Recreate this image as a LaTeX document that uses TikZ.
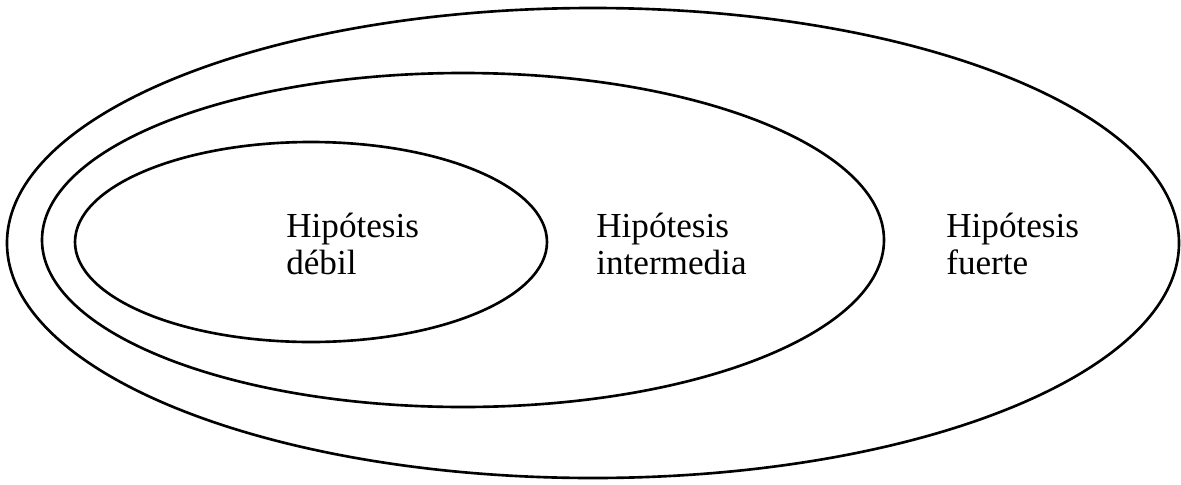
\documentclass[tikz,border=0pt]{standalone}
\usepackage{fontspec}
\setmainfont{Liberation Serif}
\begin{document}
\begin{tikzpicture}[x=0.02cm,y=-0.02cm,line width=1.5pt,
  label/.style={anchor=north west,inner sep=0pt,align=left,font=\fontsize{20}{21}\selectfont}]
\useasboundingbox (0,0) rectangle (1181,484);
% nested sets
\draw (593,243) ellipse (586 and 235);
\draw (463,240) ellipse (421 and 167);
\draw (311,242) ellipse (236 and 100);
% labels
\node[label] (debil) at (285,212) {Hipótesis\\débil};
\node[label] (inter) at (595,212) {Hipótesis\\intermedia};
\node[label] (fuerte) at (945,212) {Hipótesis\\fuerte};
\end{tikzpicture}
\end{document}
